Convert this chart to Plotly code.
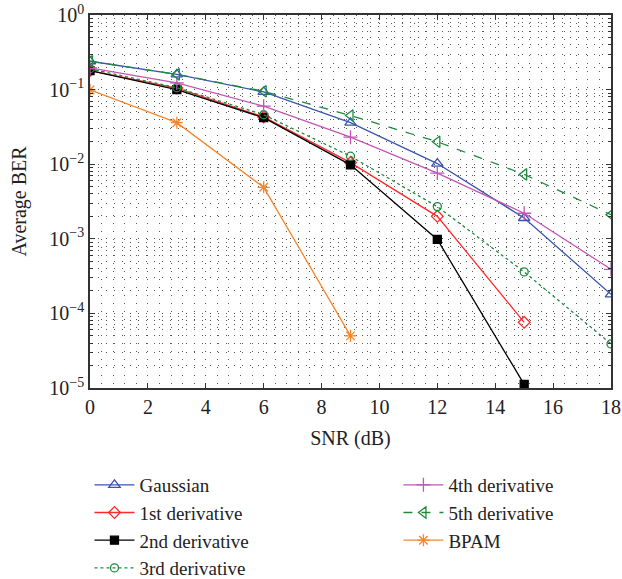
import plotly.graph_objects as go

snr = [0, 3, 6, 9, 12, 15, 18]

gaussian = [0.24, 0.16, 0.093, 0.036, 0.0102, 0.0019, 0.00018]
deriv1 = [0.18, 0.105, 0.043, 0.0105, 0.0020, 0.000076]
deriv2 = [0.18, 0.10, 0.042, 0.0098, 0.00098, 0.0000112]
deriv3 = [0.19, 0.106, 0.046, 0.0128, 0.0027, 0.00036, 0.000039]
deriv4 = [0.195, 0.123, 0.060, 0.023, 0.0076, 0.0022, 0.00039]
deriv5 = [0.24, 0.16, 0.095, 0.045, 0.020, 0.0073, 0.0021]
bpam = [0.099, 0.036, 0.0049, 0.00005]

ytick_vals = [1e-5, 1e-4, 1e-3, 1e-2, 1e-1, 1]
ytick_text = ["10<sup>\u22125</sup>", "10<sup>\u22124</sup>", "10<sup>\u22123</sup>",
              "10<sup>\u22122</sup>", "10<sup>\u22121</sup>", "10<sup>0</sup>"]
xtick_vals = list(range(0, 19, 2))

FONT = "Liberation Serif"
TXT = "#222222"
GRID = "#5a5a5a"
GDASH = "1px,7px"
FS = 19

series = [
    ("Gaussian", snr, gaussian, "#3a55b0", "solid", "triangle-up-open", 10, "legend"),
    ("1st derivative", snr[:6], deriv1, "#ff2a2a", "solid", "diamond-open", 9, "legend"),
    ("2nd derivative", snr[:6], deriv2, "#000000", "solid", "square", 8, "legend"),
    ("3rd derivative", snr, deriv3, "#1f8a3e", "dot", "circle-open", 8, "legend"),
    ("4th derivative", snr, deriv4, "#c455b5", "solid", "cross-thin-open", 10, "legend2"),
    ("5th derivative", snr, deriv5, "#1f8a3e", "dash", "triangle-left-open", 10, "legend2"),
    ("BPAM", snr[:4], bpam, "#f7862a", "solid", "asterisk-open", 10, "legend2"),
]

fig = go.Figure()
for name, x, y, color, dash, sym, size, leg in series:
    fig.add_trace(go.Scatter(
        x=x, y=y, name=name, mode="lines+markers",
        line=dict(color=color, width=1.3, dash=dash),
        marker=dict(symbol=sym, size=size, color=color,
                    line=dict(color=color, width=1.3)),
        legend=leg,
    ))

axis_common = dict(
    showline=True, linecolor="#333333", linewidth=1.5, mirror="ticks",
    ticks="inside", ticklen=5, tickcolor="#333333",
    showgrid=True, gridcolor=GRID, gridwidth=1, griddash=GDASH,
    zeroline=False, automargin=False, ticklabeloverflow="allow",
    tickfont=dict(family=FONT, size=FS + 1, color=TXT),
)

fig.update_xaxes(
    range=[0, 18], tickvals=xtick_vals,
    title=dict(text="SNR (dB)", font=dict(family=FONT, size=FS + 1, color=TXT), standoff=14),
    minor=dict(dtick=0.4, tick0=0, showgrid=True, gridcolor=GRID, griddash=GDASH,
               gridwidth=1, ticks=""),
    **axis_common,
)
fig.update_yaxes(
    type="log", range=[-5, 0], tickvals=ytick_vals, ticktext=ytick_text,
    title=dict(text="Average BER", font=dict(family=FONT, size=FS + 1, color=TXT), standoff=17),
    minor=dict(dtick="D1", showgrid=True, gridcolor=GRID, griddash=GDASH, gridwidth=1,
               ticks="inside", ticklen=3, tickcolor="#333333"),
    **axis_common,
)

leg_common = dict(
    font=dict(family=FONT, size=FS, color=TXT),
    bgcolor="rgba(0,0,0,0)", orientation="v",
    xanchor="left", yanchor="top", tracegroupgap=0, itemwidth=40,
)

fig.update_layout(
    width=622, height=579,
    font=dict(family=FONT, color=TXT),
    margin=dict(l=90, r=11, t=15, b=191, autoexpand=False),
    paper_bgcolor="white", plot_bgcolor="white",
    legend=dict(x=-0.001, y=-0.209, **leg_common),
    legend2=dict(x=0.592, y=-0.209, **leg_common),
    showlegend=True,
)

# remove the browser's default 8px body margin so the figure sits at the page origin
fig.write_html("out.html", config={"displayModeBar": False},
               post_script="document.body.style.margin='0';")
